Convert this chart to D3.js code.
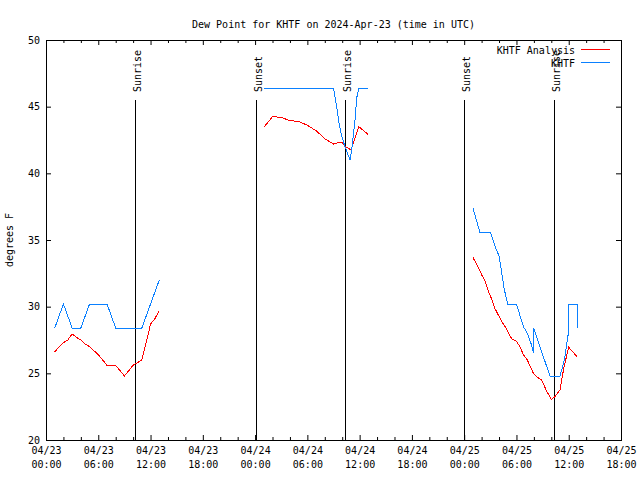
<!DOCTYPE html>
<html>
<head>
<meta charset="utf-8">
<script src="https://cdn.jsdelivr.net/npm/d3@7"></script>
<style>
  html, body { margin: 0; padding: 0; background: #fff; }
  svg { display: block; }
  text { font-family: "DejaVu Sans Mono", "Liberation Mono", monospace; font-size: 10px; fill: #000; }
</style>
</head>
<body>
<script>
// ---- data (hours since 2024-04-23 00:00 UTC; null breaks a line) ----
const analysisHours = [1,1.5,2,2.5,3,3.5,4,4.5,5,5.5,6,6.5,7,8,8.5,9,9.5,10,10.5,11,11.5,12,12.5,13,
  null,
  25,26,27,28,29,30,31,31.5,32,33,33.5,34,34.3,35,35.9,37,
  null,
  49,49.5,50,50.4,50.8,51.2,51.5,51.9,52.3,52.7,53.1,53.45,54,54.4,54.8,55.25,55.6,55.94,56.3,56.9,57.4,58,58.4,59,59.46,60,60.5,61];
const analysisDew = [26.6,27.0,27.3,27.5,27.95,27.7,27.5,27.2,27.0,26.7,26.4,26.0,25.6,25.6,25.2,24.8,25.2,25.6,25.8,26.0,27.3,28.7,29.1,29.7,
  null,
  43.45,44.25,44.2,43.95,43.9,43.6,43.2,42.9,42.6,42.2,42.3,42.3,42.05,41.75,43.5,42.9,
  null,
  33.7,33.1,32.4,31.9,31.1,30.5,29.9,29.4,28.9,28.5,28.0,27.6,27.4,27.0,26.4,26.0,25.5,25.0,24.75,24.5,23.75,23.05,23.25,23.75,25.5,26.95,26.6,26.2];

const stationHours = [1,2,3,4,5,6,7,8,9,10,11,12,13,
  null,
  25,26,27,28,29,30,31,32,33,33.37,33.63,33.94,34.32,34.9,35.09,35.47,35.66,35.93,37,
  null,
  49,49.8,51,51.5,52,52.2,52.6,53,54,54.8,55.25,55.75,55.95,55.97,56.9,57.85,59,59.5,60,60.02,60.95,61];
const stationDew = [28.4,30.2,28.4,28.4,30.2,30.2,30.2,28.4,28.4,28.4,28.4,30.2,32.0,
  null,
  46.4,46.4,46.4,46.4,46.4,46.4,46.4,46.4,46.4,45.0,43.8,42.8,42.0,41.0,41.75,44.0,45.65,46.4,46.4,
  null,
  37.4,35.6,35.6,34.6,33.8,33.0,31.3,30.2,30.2,28.5,28.0,27.1,26.5,28.4,26.6,24.8,24.8,26.0,28.2,30.2,30.2,28.4];

const sunEventHours = [10.27, 24.07, 34.36, 48.02, 58.35];
const sunEventLabels = ["Sunrise", "Sunset", "Sunrise", "Sunset", "Sunrise"];

const yTicks = [20, 25, 30, 35, 40, 45, 50];
const seriesNames = ["KHTF Analysis", "KHTF"];
const seriesColors = ["#ff0000", "#0a80ff"];
const titleText = "Dew Point for KHTF on 2024-Apr-23 (time in UTC)";
const yLabelText = "degrees F";

// ---- setup ----
const W = 640, H = 480;
const L = 46, R = 621, T = 40, B = 440;
const t0 = Date.UTC(2024, 3, 23, 0, 0);
const hToDate = h => new Date(t0 + h * 3600e3);

const x = d3.scaleUtc().domain([hToDate(0), hToDate(66)]).range([L, R]);
const y = d3.scaleLinear().domain([20, 50]).range([B, T]);

const svg = d3.select("body").append("svg").attr("width", W).attr("height", H);
svg.append("rect").attr("width", W).attr("height", H).attr("fill", "#fff");

// minor ticks every 2h, major every 6h
const minorTicks = d3.range(0, 67, 2).filter(h => h % 6 !== 0).map(hToDate);
const majorTicks = d3.range(0, 67, 6).map(hToDate);

function clean(g) { g.select(".domain").remove(); g.selectAll(".tick line").attr("stroke", "#000"); }

svg.append("g").attr("transform", `translate(0,${B})`)
  .call(d3.axisBottom(x).tickValues(minorTicks).tickSizeInner(-3).tickSizeOuter(0).tickFormat(""))
  .call(clean);
svg.append("g").attr("transform", `translate(0,${T})`)
  .call(d3.axisTop(x).tickValues(minorTicks).tickSizeInner(-3).tickSizeOuter(0).tickFormat(""))
  .call(clean);
svg.append("g").attr("transform", `translate(0,${T})`)
  .call(d3.axisTop(x).tickValues(majorTicks).tickSizeInner(-5).tickSizeOuter(0).tickFormat(""))
  .call(clean);

const fmtDay = d3.utcFormat("%m/%d"), fmtHour = d3.utcFormat("%H:%M");
const gxb = svg.append("g").attr("transform", `translate(0,${B})`)
  .call(d3.axisBottom(x).tickValues(majorTicks).tickSizeInner(-5).tickSizeOuter(0).tickPadding(6.5).tickFormat(fmtDay))
  .call(clean);
gxb.selectAll(".tick text").attr("font-family", null).attr("font-size", null)
  .each(function(d) {
    const t = d3.select(this);
    t.text(null);
    t.append("tspan").attr("x", 0).text(fmtDay(d));
    t.append("tspan").attr("x", 0).attr("dy", 14).text(fmtHour(d));
  });

svg.append("g").attr("transform", `translate(${L},0)`)
  .call(d3.axisLeft(y).tickValues(yTicks).tickSizeInner(-5).tickSizeOuter(0).tickPadding(6).tickFormat(d3.format("d")))
  .call(clean)
  .selectAll("text").attr("font-family", null).attr("font-size", null);
svg.append("g").attr("transform", `translate(${R},0)`)
  .call(d3.axisRight(y).tickValues(yTicks).tickSizeInner(-5).tickSizeOuter(0).tickFormat(""))
  .call(clean);

// border
svg.append("rect").attr("x", L + 0.5).attr("y", T + 0.5).attr("width", R - L).attr("height", B - T)
  .attr("fill", "none").attr("stroke", "#000").attr("stroke-width", 1);

// sunrise / sunset lines
sunEventHours.forEach((h, i) => {
  const px = Math.round(x(hToDate(h))) + 0.5;
  svg.append("line").attr("x1", px).attr("x2", px).attr("y1", 100).attr("y2", B)
    .attr("stroke", "#000").attr("stroke-width", 1);
  svg.append("text").attr("transform", `translate(${px + 5},92) rotate(-90)`)
    .attr("text-anchor", "start").text(sunEventLabels[i]);
});

// series lines
const line = d3.line()
  .defined(d => d[0] !== null && d[1] !== null)
  .x(d => x(hToDate(d[0])))
  .y(d => y(d[1]));

const analysisPts = analysisHours.map((h, i) => [h, analysisDew[i]]);
const stationPts = stationHours.map((h, i) => [h, stationDew[i]]);

svg.append("path").datum(analysisPts).attr("d", line)
  .attr("fill", "none").attr("stroke", seriesColors[0]).attr("stroke-width", 1)
  .attr("shape-rendering", "crispEdges");
svg.append("path").datum(stationPts).attr("d", line)
  .attr("fill", "none").attr("stroke", seriesColors[1]).attr("stroke-width", 1)
  .attr("shape-rendering", "crispEdges");

// title & y label
svg.append("text").attr("x", (L + R) / 2).attr("y", 28).attr("text-anchor", "middle").text(titleText);
svg.append("text").attr("transform", "translate(13,240) rotate(-90)").attr("text-anchor", "middle").text(yLabelText);

// legend
seriesNames.forEach((n, i) => {
  const ly = 50 + i * 13;
  svg.append("text").attr("x", 575).attr("y", ly + 3.5).attr("text-anchor", "end").text(n);
  svg.append("line").attr("x1", 581).attr("x2", 610).attr("y1", ly - 0.5).attr("y2", ly - 0.5)
    .attr("stroke", seriesColors[i]).attr("stroke-width", 1);
});
</script>
</body>
</html>
